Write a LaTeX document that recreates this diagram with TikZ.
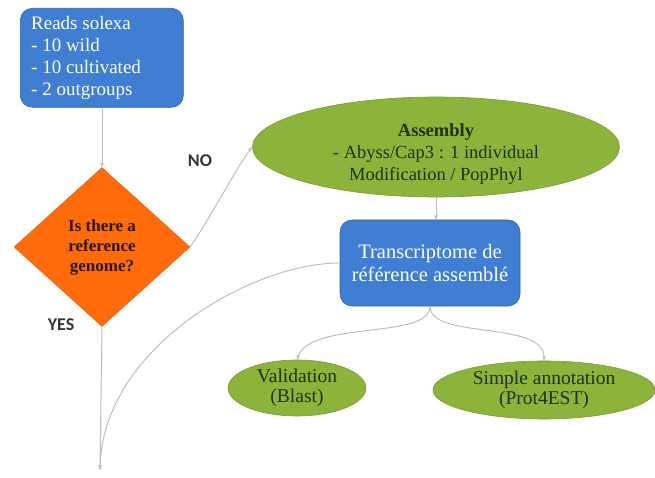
\documentclass[tikz,border=0pt]{standalone}
\usepackage{fontspec}
\setmainfont{Liberation Serif}
\newfontfamily\lblfont{Carlito}
\usetikzlibrary{shapes.geometric,arrows.meta}
\definecolor{boxblue}{HTML}{3F7ED3}
\definecolor{dorange}{HTML}{FF6A0A}
\definecolor{egreen}{HTML}{8DB43A}
\definecolor{linegray}{HTML}{BDBDBD}
\definecolor{gtext}{HTML}{243010}
\begin{document}
\begin{tikzpicture}[x=1pt,y=-1pt,
  bluebox/.style={draw=boxblue!80!black,line width=0.6pt,fill=boxblue,rounded corners=12pt,text=white,inner sep=0pt},
  greenell/.style={ellipse,fill=egreen,draw=egreen!85!black,line width=0.6pt,text=gtext,inner sep=0pt,align=center},
  conn/.style={draw=linegray,line width=1pt,-{Stealth[length=5pt,width=4pt]}},
  plain/.style={draw=linegray,line width=1pt},
  yn/.style={font=\lblfont\bfseries\fontsize{18}{20}\selectfont,text=black!80}
]
\useasboundingbox (0,0) rectangle (655,478);

\node[bluebox,minimum width=163pt,minimum height=99pt,anchor=north west] (reads) at (20,8) {};
\node[anchor=north west,text=white!95!yellow,align=left,inner sep=0pt,font=\fontsize{19}{22}\selectfont] (readstxt) at (31,16) {Reads solexa\\- 10 wild\\- 10 cultivated\\- 2 outgroups};

\node[diamond,fill=dorange,draw=dorange!90!black,minimum width=176pt,minimum height=159pt,inner sep=0pt,align=center,text=black!80!brown,font=\bfseries\fontsize{17}{20}\selectfont] (dia) at (102,247) {Is there a\\reference\\genome?};

\node[greenell,minimum width=367pt,minimum height=100pt] (asm) at (436,147) {};
\node[text=gtext,align=center,inner sep=0pt,font=\fontsize{18.5}{22}\selectfont] (asmtxt) at (436,154) {\textbf{Assembly}\\- Abyss/Cap3 : 1 individual\\Modification / PopPhyl};

\node[bluebox,minimum width=180pt,minimum height=86pt,align=center,font=\fontsize{20.5}{23}\selectfont] (trans) at (430,263) {Transcriptome de\\référence assemblé};

\node[greenell,minimum width=138pt,minimum height=56pt,font=\fontsize{19.5}{20}\selectfont] (valid) at (297,388) {Validation\\(Blast)};
\node[greenell,minimum width=222pt,minimum height=58pt,font=\fontsize{19.5}{20}\selectfont] (annot) at (544,390) {Simple annotation\\(Prot4EST)};

\node[yn] (no) at (200,161) {NO};
\node[yn] (yes) at (61,325) {YES};

\coordinate (end) at (100,470);

\draw[conn] (reads.south -| dia.north) -- (dia.north);
\draw[conn] (dia.east) .. controls (215,210) and (235,170) .. (asm.west);
\draw[conn] (asm.south) -- (trans.north -| asm.south);
\draw[conn] (dia.south) -- (end);
\draw[plain] (trans.west) .. controls (250,263) and (100,350) .. (end);
\draw[conn] (trans.south) .. controls (430,340) and (310,320) .. (valid.north);
\draw[conn] (trans.south) .. controls (430,340) and (545,320) .. (annot.north);
\end{tikzpicture}
\end{document}
